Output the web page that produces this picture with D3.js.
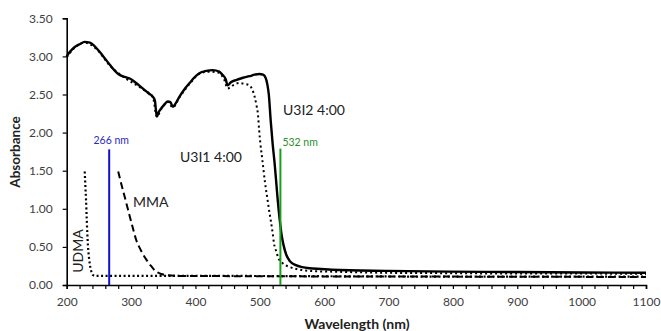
<!DOCTYPE html>
<html>
<head>
<meta charset="utf-8">
<script src="https://cdn.jsdelivr.net/npm/d3@7"></script>
<style>
  body { margin: 0; background: #fff; }
  text { font-family: Lato, "Open Sans", sans-serif; }
</style>
</head>
<body>
<div class="canvas"></div>
<script>
// spectra: [wavelength nm, absorbance]
let u3i2 = [[200,3.00],[205,3.06],[212,3.12],[220,3.16],[228,3.19],[236,3.18],[246,3.11],[256,3.01],[267,2.89],[280,2.77],
  [290,2.73],[298,2.71],[308,2.65],[318,2.58],[328,2.51],[334,2.47],[337,2.42],[340,2.21],[343,2.27],[347,2.32],
  [352,2.37],[357,2.41],[361,2.40],[365,2.34],[369,2.38],[375,2.47],[383,2.57],[391,2.65],[399,2.73],[406,2.78],
  [417,2.81],[427,2.82],[437,2.80],[442,2.76],[447,2.70],[450,2.62],[455,2.66],[463,2.69],[474,2.72],[484,2.74],
  [492,2.76],[499,2.77],[505,2.76],[509,2.72],[512,2.62],[514,2.50],[517,2.15],[520,1.85],[523,1.60],[526,1.30],
  [528,1.10],[531,0.85],[534,0.65],[537,0.52],[541,0.40],[547,0.31],[556,0.26],[566,0.235],[577,0.22],[595,0.21],
  [612,0.20],[700,0.185],[793,0.175],[900,0.17],[1000,0.165],[1100,0.16]];

let u3i1 = [[200,2.99],[212,3.11],[228,3.18],[246,3.10],[267,2.88],[290,2.72],[318,2.57],[334,2.46],[340,2.21],[347,2.31],
  [357,2.40],[365,2.33],[375,2.46],[391,2.64],[406,2.77],[420,2.80],[435,2.79],[440,2.76],[445,2.69],[450,2.58],
  [455,2.60],[460,2.63],[468,2.65],[476,2.64],[484,2.62],[488,2.57],[492,2.47],[495,2.35],[497,2.25],[499,2.03],
  [501,1.85],[504,1.64],[508,1.35],[512,1.12],[515,0.95],[517,0.85],[520,0.68],[522,0.55],[526,0.43],[529,0.35],
  [535,0.29],[545,0.24],[557,0.21],[571,0.19],[590,0.18],[613,0.175],[700,0.16],[800,0.155],[900,0.15],[1000,0.15],[1100,0.145]];

let udma = [[228,1.49],[229,1.30],[230,1.12],[231,0.90],[232,0.68],[233,0.52],[235,0.33],[237,0.22],[239,0.16],[241,0.13],
  [245,0.12],[300,0.12],[400,0.12],[600,0.115],[800,0.11],[1100,0.11]];

let mma = [[280,1.49],[285,1.32],[290,1.16],[294,1.03],[298,0.90],[303,0.74],[308,0.59],[315,0.46],[324,0.33],[331,0.25],
  [339,0.175],[347,0.145],[355,0.13],[370,0.12],[500,0.115],[800,0.11],[1100,0.105]];

let laserLines = [266, 532];
let laserLabels = ['266 nm', '532 nm'];
let laserTop = [1.78, 1.79];

let xTicks = d3.range(200, 1101, 20);
let yTicks = [0, 0.5, 1, 1.5, 2, 2.5, 3, 3.5];

let width = 661, height = 331;

let svg = d3.select('.canvas').append('svg')
  .attr('width', width)
  .attr('height', height);

let x = d3.scaleLinear().domain([200, 1100]).range([66.7, 646]);
let y = d3.scaleLinear().domain([0, 3.5]).range([285, 18.3]);

let line = d3.line()
  .x(d => x(d[0]))
  .y(d => y(d[1]))
  .curve(d3.curveMonotoneX);

// axes
let xAxis = svg.append('g')
  .attr('transform', 'translate(0,' + y(0) + ')')
  .call(d3.axisBottom(x).tickValues(xTicks).tickSize(4).tickPadding(8)
    .tickFormat(d => d % 100 === 0 ? d : ''));

let yAxis = svg.append('g')
  .attr('transform', 'translate(' + x(200) + ',0)')
  .call(d3.axisLeft(y).tickValues(yTicks).tickSize(4).tickPadding(10)
    .tickFormat(d3.format('.2f')));

[xAxis, yAxis].forEach(a => {
  a.select('.domain').attr('stroke', '#000').attr('stroke-width', 1.6);
  a.selectAll('.tick line').attr('stroke', '#000').attr('stroke-width', 1.2);
  a.selectAll('.tick text')
    .attr('fill', '#404040')
    .style('font-size', '12px')
    .style('font-family', 'Lato, sans-serif');
});

// spectra
svg.append('path').datum(mma)
  .attr('d', line).attr('fill', 'none')
  .attr('stroke', '#000').attr('stroke-width', 2).attr('stroke-dasharray', '7,4');

svg.append('path').datum(udma)
  .attr('d', line).attr('fill', 'none')
  .attr('stroke', '#000').attr('stroke-width', 2.2).attr('stroke-dasharray', '2,2.5');

svg.append('path').datum(u3i1)
  .attr('d', line).attr('fill', 'none')
  .attr('stroke', '#000').attr('stroke-width', 2).attr('stroke-dasharray', '2,3');

svg.append('path').datum(u3i2)
  .attr('d', line).attr('fill', 'none')
  .attr('stroke', '#000').attr('stroke-width', 2.4);

// laser wavelength markers
let laserColors = ['#1010d0', '#18a018'];
let laserTextColors = ['#2a2ac0', '#2a8f2a'];
laserLines.forEach((nm, i) => {
  svg.append('line')
    .attr('x1', x(nm)).attr('x2', x(nm))
    .attr('y1', y(0)).attr('y2', y(laserTop[i]))
    .attr('stroke', laserColors[i]).attr('stroke-width', 2);
});
svg.append('text')
  .attr('x', x(266) + 2).attr('y', 144)
  .attr('text-anchor', 'middle')
  .attr('fill', laserTextColors[0])
  .style('font-size', '10.5px')
  .text(laserLabels[0]);
svg.append('text')
  .attr('x', x(532) + 2).attr('y', 146)
  .attr('fill', laserTextColors[1])
  .style('font-size', '10.5px')
  .text(laserLabels[1]);

// series labels
svg.append('text').attr('x', 283).attr('y', 115)
  .style('font-size', '14px').attr('fill', '#222').text('U3I2 4:00');
svg.append('text').attr('x', 180).attr('y', 162)
  .style('font-size', '14px').attr('fill', '#222').text('U3I1 4:00');
svg.append('text').attr('x', 133).attr('y', 207)
  .style('font-size', '14px').attr('fill', '#222').text('MMA');
svg.append('text')
  .attr('transform', 'translate(83,251) rotate(-90)')
  .attr('text-anchor', 'middle')
  .style('font-size', '14px').attr('fill', '#222').text('UDMA');

// axis titles
svg.append('text')
  .attr('x', 357).attr('y', 329)
  .attr('text-anchor', 'middle')
  .style('font-size', '14px').style('font-weight', 'bold')
  .attr('fill', '#222')
  .text('Wavelength (nm)');

svg.append('text')
  .attr('transform', 'translate(20,152) rotate(-90)')
  .attr('text-anchor', 'middle')
  .style('font-size', '13.5px').style('font-weight', 'bold')
  .attr('fill', '#222')
  .text('Absorbance');
</script>
</body>
</html>
